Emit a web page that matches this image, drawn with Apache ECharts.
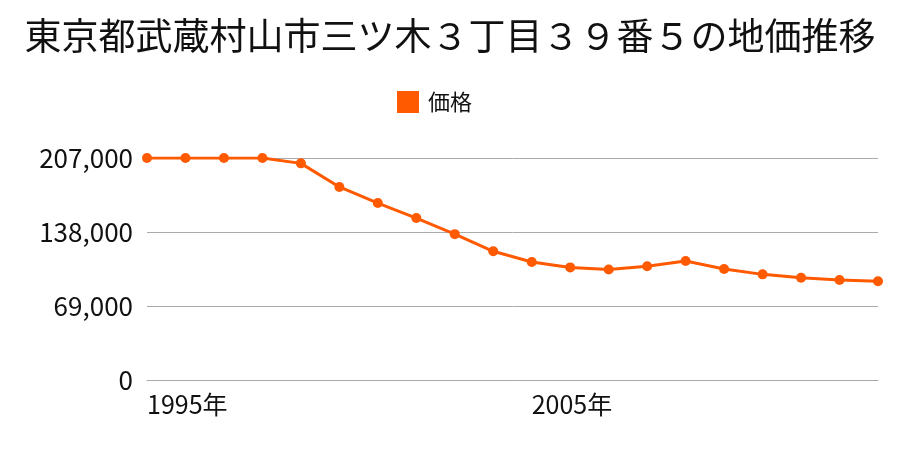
<!DOCTYPE html>
<html>
<head>
<meta charset="utf-8">
<script src="https://cdn.jsdelivr.net/npm/echarts@6/dist/echarts.min.js"></script>
<style>html,body{margin:0;padding:0;background:#fff}#c{width:900px;height:450px}</style>
</head>
<body>
<div id="c"></div>
<script>
const titleText = "東京都武蔵村山市三ツ木３丁目３９番５の地価推移";
const seriesName = "価格";
const years = ["1995年","1996年","1997年","1998年","1999年","2000年","2001年","2002年","2003年","2004年","2005年","2006年","2007年","2008年","2009年","2010年","2011年","2012年","2013年","2014年"];
const prices = [207000,207000,207000,207000,202000,180000,165000,151000,136000,120000,110000,105000,103000,106000,111000,103500,98500,95400,93200,92000];
const yTicks = [0,69000,138000,207000];

const font = '"Noto Sans CJK JP", "Noto Sans", sans-serif';
const chart = echarts.init(document.getElementById('c'), null, {renderer:'canvas'});
chart.setOption({
  animation:false,
  backgroundColor:'#fff',
  title:{text:titleText,left:'center',top:12,textStyle:{fontFamily:font,fontSize:37,fontWeight:'normal',color:'#111'}},
  legend:{data:[seriesName],left:392,top:86,itemWidth:22,itemHeight:22,icon:'rect',
    textStyle:{fontFamily:font,fontSize:22,color:'#111',padding:[0,0,0,4]}},
  grid:{left:147,right:22,top:158,bottom:70},
  xAxis:{type:'category',data:years,boundaryGap:false,
    axisLine:{show:true,lineStyle:{color:'#aaa',width:1}},axisTick:{show:false},
    axisLabel:{interval:9,align:'left',margin:12,fontFamily:font,fontSize:25,color:'#111'},
    splitLine:{show:false}},
  yAxis:{type:'value',min:yTicks[0],max:yTicks[yTicks.length-1],interval:yTicks[1]-yTicks[0],
    axisLine:{show:false},axisTick:{show:false},
    axisLabel:{margin:14,fontFamily:font,fontSize:26,color:'#111',
      formatter:v=>v.toLocaleString('en-US')},
    splitLine:{show:true,lineStyle:{color:'#aaa',width:1}}},
  series:[{name:seriesName,type:'line',data:prices,symbol:'circle',symbolSize:10,
    itemStyle:{color:'#ff5a00'},lineStyle:{color:'#ff5a00',width:3}}]
});
</script>
</body>
</html>
